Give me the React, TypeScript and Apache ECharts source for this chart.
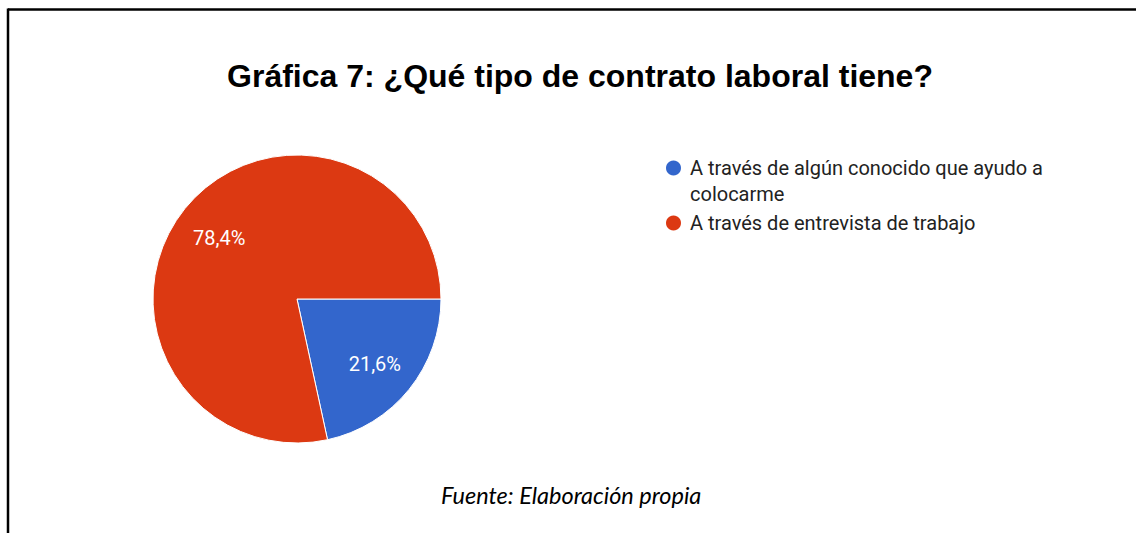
import React, { useEffect, useRef } from "react";
import * as echarts from "echarts";

const categories = [
  "A través de algún conocido que ayudo a colocarme",
  "A través de entrevista de trabajo",
];
const values = [21.6, 78.4];
const colors = ["#3366cc", "#dc3912"];
const titleText = "Gráfica 7: ¿Qué tipo de contrato laboral tiene?";
const sourceText = "Fuente: Elaboración propia";

export default function App() {
  const ref = useRef<HTMLDivElement>(null);
  useEffect(() => {
    if (!ref.current) return;
    const chart = echarts.init(ref.current, null, { renderer: "svg" });
    const data = categories.map((name, i) => ({
      name,
      value: values[i],
      itemStyle: { color: colors[i] },
    }));
    chart.setOption({
      animation: false,
      backgroundColor: "#ffffff",
      title: {
        text: titleText,
        left: 575,
        textAlign: "center",
        top: 55,
        textStyle: {
          fontFamily: "Liberation Sans",
          fontWeight: "bold",
          fontSize: 32,
          color: "#000000",
        },
      },
      legend: {
        orient: "vertical",
        left: 659,
        top: 124,
        icon: "circle",
        itemWidth: 17,
        itemHeight: 17,
        itemGap: 3,
        selectedMode: false,
        data: categories,
        formatter: (name: string) =>
          name === categories[0] ? "\n" + name : name,
        textStyle: {
          fontFamily: "Roboto",
          fontSize: 20,
          color: "#222222",
          lineHeight: 26,
          width: 390,
          overflow: "break",
          padding: [0, 0, 0, 3],
        },
      },
      graphic: [
        {
          type: "line",
          shape: { x1: 8, y1: 9.5, x2: 1136, y2: 9.5 },
          style: { stroke: "#000000", lineWidth: 2.5 },
        },
        {
          type: "line",
          shape: { x1: 8, y1: 8.5, x2: 8, y2: 533 },
          style: { stroke: "#000000", lineWidth: 2.5 },
        },
        {
          type: "text",
          left: 441,
          top: 483,
          style: {
            text: sourceText,
            fontFamily: "Lato",
            fontStyle: "italic",
            fontSize: 23.5,
            fill: "#000000",
          },
        },
      ],
      series: [
        {
          type: "pie",
          center: [297, 299],
          radius: 144,
          startAngle: 0,
          clockwise: true,
          silent: true,
          label: { show: false },
          labelLine: { show: false },
          itemStyle: { borderColor: "#ffffff", borderWidth: 1 },
          data,
        },
        {
          type: "pie",
          center: [297, 301],
          radius: [50, 144],
          startAngle: 0,
          clockwise: true,
          silent: true,
          itemStyle: { color: "transparent", borderWidth: 0 },
          label: {
            show: true,
            position: "inside",
            formatter: (p: any) => String(p.value).replace(".", ",") + "%",
            color: "#ffffff",
            fontFamily: "Roboto",
            fontSize: 20,
          },
          labelLine: { show: false },
          data: categories.map((name, i) => ({ name, value: values[i] })),
        },
      ],
    });
    return () => chart.dispose();
  }, []);
  return (
    <div
      ref={ref}
      style={{ position: "fixed", left: 0, top: 0, width: 1136, height: 533 }}
    />
  );
}
